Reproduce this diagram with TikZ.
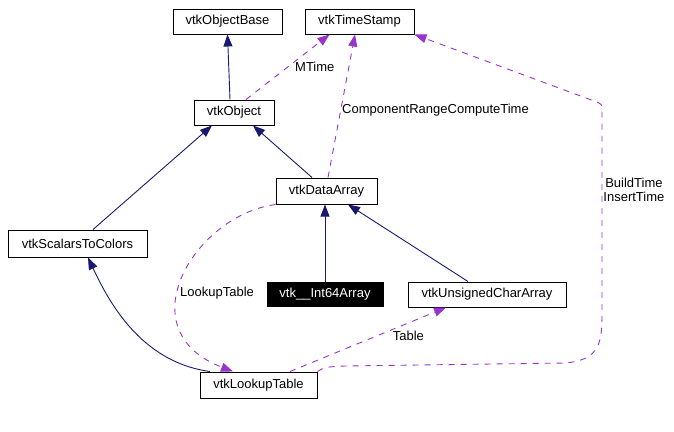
\documentclass[tikz,border=0pt]{standalone}
\usepackage{fontspec}
\setmainfont{Liberation Sans}
\usetikzlibrary{arrows.meta}

\definecolor{edgeblue}{HTML}{191970}
\definecolor{edgepurple}{HTML}{9A32CD}

\begin{document}
\begin{tikzpicture}[x=1pt, y=-1pt,
    box/.style={draw, line width=1pt, inner sep=0pt, minimum height=25pt,
        font=\fontsize{13}{14}\selectfont},
    inh/.style={draw=edgeblue, line width=0.9pt,
        -{Triangle[length=12pt,width=9pt]}},
    use/.style={draw=edgepurple, line width=0.9pt, dash pattern=on 6pt off 6pt,
        -{Triangle[length=12pt,width=9pt]}},
    lbl/.style={font=\fontsize{13}{14}\selectfont, inner sep=1pt, text=black}]

    % 画像の大きさ (ピクセル単位: 1pt = 1px, y は下向き)
    \useasboundingbox (0,0) rectangle (674,431);

    % クラスの箱を定義
    \node[box, minimum width=109pt] (base) at (227.5,21.5) {vtkObjectBase};
    \node[box, minimum width=109pt] (stamp) at (359.5,21.5) {vtkTimeStamp};
    \node[box, minimum width=80pt] (obj) at (234,112.5) {vtkObject};
    \node[box, minimum width=101pt, minimum height=26pt] (darr) at (326.5,191) {vtkDataArray};
    \node[box, minimum width=139pt, minimum height=27pt] (s2c) at (77.5,243.5) {vtkScalarsToColors};
    \node[box, fill=black, text=white, minimum width=116pt, minimum height=24pt] (i64) at (325,294) {vtk\_\_Int64Array};
    \node[box, minimum width=158pt] (uca) at (487,294.5) {vtkUnsignedCharArray};
    \node[box, minimum width=117pt, minimum height=26pt] (lut) at (258.5,385) {vtkLookupTable};

    % 継承 (紺の実線)
    \draw[inh] ([xshift=-4pt]obj.north) -- (base.south);
    \draw[inh] ([xshift=-14.5pt]darr.north) -- ([xshift=19pt]obj.south);
    \draw[inh] ([xshift=15.5pt]s2c.north) -- ([xshift=-22pt]obj.south);
    \draw[inh] (i64.north) -- (i64.north |- darr.south);
    \draw[inh] ([xshift=-19pt]uca.north) -- ([xshift=21.5pt]darr.south);
    \draw[inh] ([xshift=-48.5pt]lut.north) .. controls (140,362) and (108,300) .. ([xshift=10.5pt]s2c.south);

    % 使用関係 (紫の破線とラベル)
    \draw[use] ([xshift=12pt]obj.north) -- node[lbl, pos=.5, right=6pt] {MTime} ([xshift=-30pt]stamp.south);
    \draw[use] ([xshift=1.5pt]darr.north) -- node[lbl, pos=.47, right] {ComponentRangeComputeTime} ([xshift=-4.5pt]stamp.south);
    \draw[use] (darr.south west) .. controls (195,215) and (125,330) .. ([xshift=-25.5pt]lut.north)
        node[lbl, pos=.58, right] {LookupTable};
    \draw[use] ([xshift=31.5pt]lut.north) -- node[lbl, pos=.65, below right] {Table} ([xshift=-41pt]uca.south);
    \draw[use] (lut.north east) .. controls (325,367) .. (345,366) -- (565,363)
        .. controls (602,360) and (602,340) .. (602,310) -- (602,110)
        node[lbl, pos=.6, right, align=center] {BuildTime\\InsertTime}
        .. controls (602,104) .. (594,101) -- (stamp.south east);
\end{tikzpicture}
\end{document}
